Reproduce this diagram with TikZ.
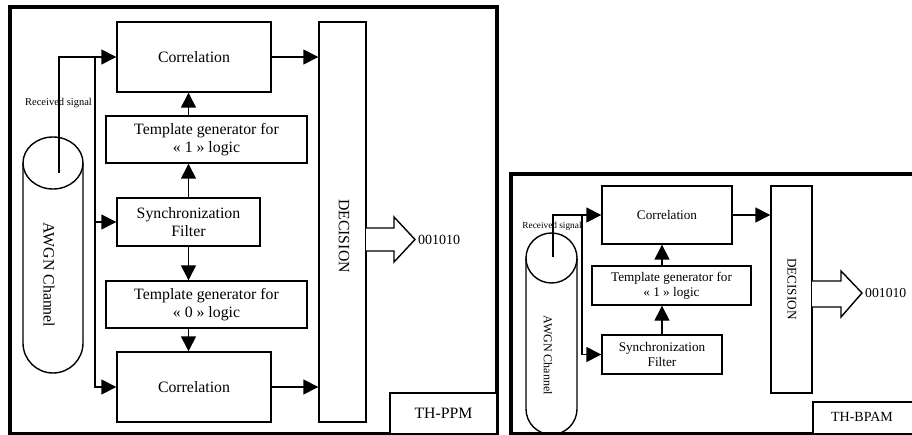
\documentclass[tikz,border=0pt]{standalone}
\usepackage{fontspec}
\setmainfont{Liberation Serif}
\usetikzlibrary{arrows.meta}
\begin{document}
\begin{tikzpicture}[x=1pt,y=-1pt,
  box/.style={draw, line width=1.4pt, fill=white, align=center, inner sep=0pt},
  bigtxt/.style={font=\fontsize{15.8}{17.5}\selectfont},
  smalltxt/.style={font=\fontsize{13.2}{15}\selectfont},
  wire/.style={line width=1.4pt},
  arr/.style={line width=1.4pt, -{Triangle[length=15pt,width=15pt]}},
  frame/.style={line width=3.3pt},
  plain/.style={inner sep=0pt}]
\useasboundingbox (0,0) rectangle (912,435);

% ---------------- Left panel: TH-PPM ----------------
\draw[frame] (10,7) rectangle (497,434);

% AWGN channel cylinder
\draw[wire] (23,163) -- (23,343) arc[start angle=180, end angle=360, radius=30pt] -- (83,163);
\draw[wire, fill=white] (53,163) ellipse [x radius=30pt, y radius=26pt];
\node[plain, bigtxt, rotate=-90] (awgn1) at (49,275) {AWGN Channel};

\node[box, bigtxt, minimum width=154pt, minimum height=70pt] (c1) at (194,57) {Correlation};
\node[box, bigtxt, minimum width=47pt, minimum height=400pt] (dec1) at (342.5,222) {};
\node[plain, bigtxt, rotate=-90] (dect1) at (344,236) {DECISION};
\node[box, bigtxt, minimum width=201pt, minimum height=47pt] (t1) at (206.5,139.5) {Template generator for\\« 1 » logic};
\node[box, bigtxt, minimum width=143pt, minimum height=48pt] (s1) at (188.5,222) {Synchronization\\Filter};
\node[box, bigtxt, minimum width=201pt, minimum height=47pt] (t0) at (206.5,304.5) {Template generator for\\« 0 » logic};
\node[box, bigtxt, minimum width=154pt, minimum height=70pt] (c0) at (194,387) {Correlation};
\node[box, bigtxt, minimum width=107pt, minimum height=41pt] (th1) at (443.5,413.5) {TH-PPM};

\node[plain, font=\fontsize{10.5}{12}\selectfont] (rl1) at (58.5,103) {Received signal};

\coordinate (rs1) at (59,173);
\coordinate (j1) at (95,57);
\draw[arr] (rs1) |- (c1.west);
\draw[arr] (j1) |- (c0.west);
\draw[arr] (j1 |- s1.west) -- (s1.west);
\draw[arr] (c1.east) -- (c1.east -| dec1.west);
\draw[arr] (c0.east) -- (c0.east -| dec1.west);
\draw[arr] (t1.north -| s1) -- (c1.south -| s1);
\draw[arr] (s1.north) -- (t1.south -| s1);
\draw[arr] (s1.south) -- (t0.north -| s1);
\draw[arr] (t0.south -| s1) -- (c0.north -| s1);

% hollow output arrow
\draw[wire, fill=white] (366,228) -- (394,228) -- (394,217) -- (415,239.5) -- (394,262) -- (394,251) -- (366,251);
\node[plain, font=\fontsize{14}{16}\selectfont, anchor=west] (out1) at (418,240) {001010};

% ---------------- Right panel: TH-BPAM ----------------
\draw[frame] (511,174) rectangle (930,434);

\draw[wire] (526,258) -- (526,409) arc[start angle=180, end angle=360, radius=25.5pt] -- (577,258);
\draw[wire, fill=white] (551.5,258) ellipse [x radius=25.5pt, y radius=25pt];
\node[plain, font=\fontsize{12}{14}\selectfont, rotate=-90] (awgn2) at (548,355) {AWGN Channel};

\node[box, smalltxt, minimum width=130pt, minimum height=58pt] (c2) at (667,215) {Correlation};
\node[box, smalltxt, minimum width=41pt, minimum height=207pt] (dec2) at (791.5,289.5) {};
\node[plain, smalltxt, rotate=-90] (dect2) at (792,289) {DECISION};
\node[box, smalltxt, minimum width=159pt, minimum height=39pt] (t2) at (671.5,285.5) {Template generator for\\« 1 » logic};
\node[box, smalltxt, minimum width=120pt, minimum height=39pt] (s2) at (662,354.5) {Synchronization\\Filter};
\node[box, font=\fontsize{14}{16}\selectfont, minimum width=110pt, minimum height=32pt] (th2) at (868,418) {};
\node[plain, font=\fontsize{14}{16}\selectfont] (tht2) at (862,417) {TH-BPAM};

\node[plain, font=\fontsize{9.3}{11}\selectfont] (rl2) at (552,226) {Received signal};

\coordinate (rs2) at (553,257);
\coordinate (j2) at (582,215);
\draw[arr] (rs2) |- (c2.west);
\draw[arr] (j2) |- (s2.west);
\draw[arr] (c2.east) -- (c2.east -| dec2.west);
\draw[arr] (t2.north -| s2) -- (c2.south -| s2);
\draw[arr] (s2.north) -- (t2.south -| s2);

\draw[wire, fill=white] (812,281) -- (841,281) -- (841,271) -- (862,293) -- (841,317) -- (841,307) -- (812,307);
\node[plain, font=\fontsize{13.7}{16}\selectfont, anchor=west] (out2) at (865,293) {001010};
\end{tikzpicture}
\end{document}
